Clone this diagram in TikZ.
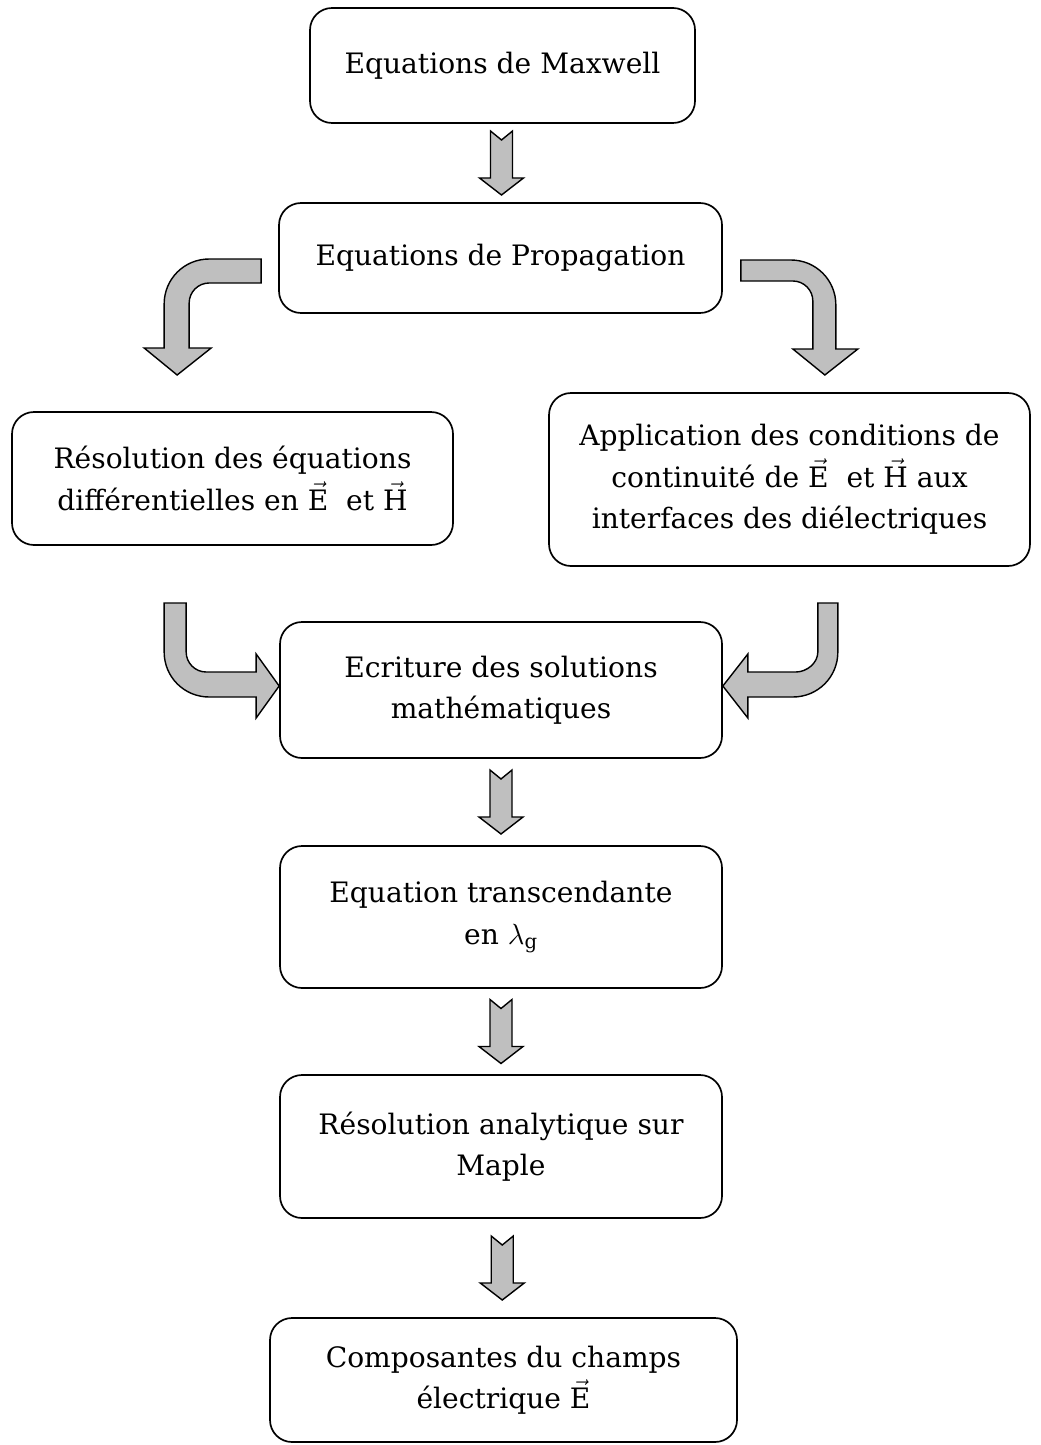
\documentclass[tikz,border=0pt]{standalone}
\usepackage{fontspec}
\setmainfont{DejaVu Serif}
\usetikzlibrary{calc}
\newcommand\unitpx{0.025cm}
\newcommand\vecE{$\vec{\hbox{E}}$}
\newcommand\vecH{$\vec{\hbox{H}}$}
\tikzset{
  Boite/.style 2 args={draw, line width=1.2pt, rounded corners=0.55cm, align=center,
    inner sep=0pt, minimum width=#1*\unitpx, minimum height=#2*\unitpx,
    font=\fontsize{20}{29.5}\selectfont}, % für die Kästen
  Fleche/.style={draw=black, fill=gray!50, line width=1pt, line join=miter}, % Blockpfeile
  descente/.pic={\draw[Fleche] (-11,-32) -- (0,-23) -- (11,-32) -- (11,15) -- (22,15)
    -- (0,32) -- (-22,15) -- (-11,15) -- cycle;}
}
\begin{document}
\begin{tikzpicture}[x=\unitpx, y=-\unitpx]
\useasboundingbox (0,0) rectangle (1040,1445);

%Boites
\node[Boite={385}{115}] (max) at (502.5,65.5) {Equations de Maxwell};
\node[Boite={443}{110}] (prop) at (500.5,258) {Equations de Propagation};
\node[Boite={441}{133}] (resdiff) at (232.5,478.5) {Résolution des équations\\différentielles en \vecE{}\ \ et \vecH};
\node[Boite={481}{173}] (appli) at (789.5,479.5) {Application des conditions de\\continuité de \vecE{}\ \ et \vecH{} aux\\interfaces des diélectriques};
\node[Boite={442}{136}] (ecrit) at (501,690) {Ecriture des solutions\\mathématiques};
\node[Boite={442}{142}] (transc) at (501,917) {Equation transcendante\\en $\lambda_{\mathrm{g}}$};
\node[Boite={442}{143}] (maple) at (501,1146.5) {Résolution analytique sur\\Maple};
\node[Boite={467}{124}] (champ) at (503.5,1380) {Composantes du champs\\électrique \vecE};

%Fleches droites
\pic at ($(max.south)!.5!(prop.north)$) {descente};
\pic at ($(ecrit.south)!.5!(transc.north)$) {descente};
\pic at ($(transc.south)!.5!(maple.north)$) {descente};
\pic at ($(maple.south)!.5!(champ.north)$) {descente};

%Fleches courbes
\draw[Fleche, shift={(prop.west)}] (-17,1) -- (-69,1) .. controls (-94,1) and (-114,21) .. (-114,46)
  -- (-114,90) -- (-134,90) -- (-101,117) -- (-67,90) -- (-89,90) -- (-89,45)
  .. controls (-89,34) and (-80,25) .. (-69,25) -- (-17,25) -- cycle;
\draw[Fleche, shift={(prop.east)}] (18,2) -- (68,2) .. controls (93,2) and (113,22) .. (113,47)
  -- (113,91) -- (135,91) -- (102,117) -- (70,91) -- (90,91) -- (90,43)
  .. controls (90,32) and (81,23) .. (70,23) -- (18,23) -- cycle;
\draw[Fleche, shift={(ecrit.west)}] (-115,-87) -- (-115,-38) .. controls (-115,-13) and (-95,7) .. (-70,7)
  -- (-23,7) -- (-23,28) -- (0,-4) -- (-23,-36) -- (-23,-18) -- (-73,-18)
  .. controls (-84,-18) and (-93,-27) .. (-93,-38) -- (-93,-87) -- cycle;
\draw[Fleche, shift={(ecrit.east)}] (115,-87) -- (115,-38) .. controls (115,-13) and (95,7) .. (70,7)
  -- (25,7) -- (25,28) -- (0,-4) -- (25,-36) -- (25,-18) -- (73,-18)
  .. controls (84,-18) and (95,-27) .. (95,-38) -- (95,-87) -- cycle;

\end{tikzpicture}
\end{document}
